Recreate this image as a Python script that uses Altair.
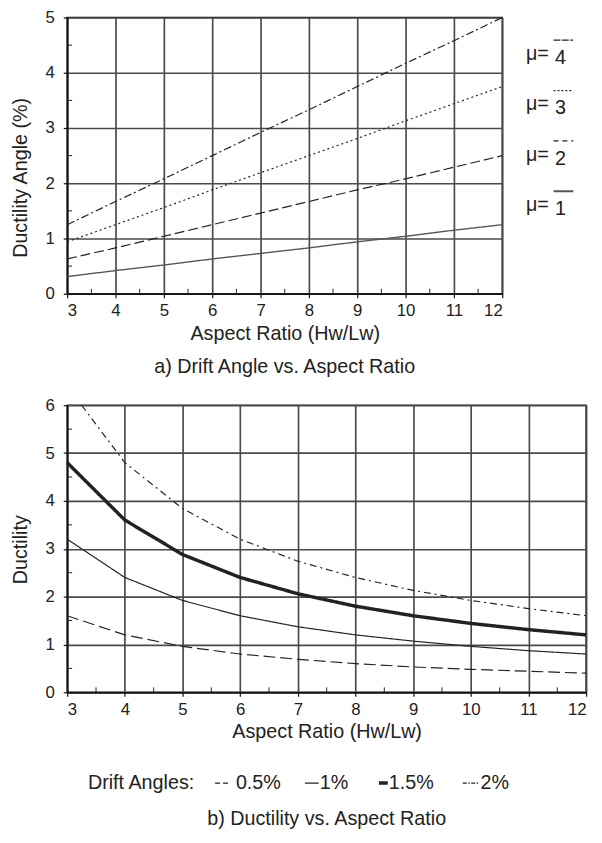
import altair as alt
import pandas as pd

FONT = "Liberation Sans"
INK = "#222222"

# ---------------- data: panel a ----------------
aspect = [3, 4, 5, 6, 7, 8, 9, 10, 11, 12]
mu_labels = ["1", "2", "3", "4"]
drift_mu1 = [0.31, 0.42, 0.52, 0.63, 0.73, 0.83, 0.94, 1.04, 1.15, 1.25]
drift_mu2 = [0.63, 0.83, 1.04, 1.25, 1.46, 1.67, 1.88, 2.08, 2.29, 2.50]
drift_mu3 = [0.94, 1.25, 1.56, 1.88, 2.19, 2.50, 2.81, 3.13, 3.44, 3.75]
drift_mu4 = [1.25, 1.67, 2.08, 2.50, 2.92, 3.33, 3.75, 4.17, 4.58, 5.00]

# ---------------- data: panel b ----------------
drift_labels = ["0.5%", "1%", "1.5%", "2%"]
duct_05 = [1.60, 1.20, 0.96, 0.80, 0.69, 0.60, 0.53, 0.48, 0.44, 0.40]
duct_10 = [3.20, 2.40, 1.92, 1.60, 1.37, 1.20, 1.07, 0.96, 0.87, 0.80]
duct_15 = [4.80, 3.60, 2.88, 2.40, 2.06, 1.80, 1.60, 1.44, 1.31, 1.20]
aspect_20 = [3.25, 4, 5, 6, 7, 8, 9, 10, 11, 12]
duct_20 = [6.00, 4.80, 3.84, 3.20, 2.74, 2.40, 2.13, 1.92, 1.75, 1.60]

minor_x = [3.5, 4.5, 5.5, 6.5, 7.5, 8.5, 9.5, 10.5, 11.5]
minor_y_a = [0.5, 1.5, 2.5, 3.5, 4.5]
minor_y_b = [0.5, 1.5, 2.5, 3.5, 4.5, 5.5]
yticks_a = [0, 1, 2, 3, 4, 5]
yticks_b = [0, 1, 2, 3, 4, 5, 6]

title_a = "a) Drift Angle vs. Aspect Ratio"
title_b = "b) Ductility vs. Aspect Ratio"
xtitle = "Aspect Ratio (Hw/Lw)"

# ---------------- style ----------------
dash_a = [[1, 0], [10, 4], [2, 3], [8, 3, 2, 3]]
col_a = ["#555555", INK, INK, INK]
width_a = [1.4, 1.2, 1.2, 1.2]
legend_dash_a = [[1, 0], [5, 4], [2, 2], [7, 1.5]]
dash_b = [[12, 5], [1, 0], [1, 0], [7, 4, 2, 4]]
width_b = [1.2, 1.2, 3.5, 1.2]

W1, H1 = 441, 280
W2, H2 = 526, 291
FS = 20


def x_axis():
    return alt.Axis(values=aspect, format="d", tickSize=4, labelPadding=5,
                    title=xtitle, titlePadding=5, grid=True)


def y_axis(vals, title, ty):
    return alt.Axis(values=vals, tickSize=4, labelPadding=9, title=title,
                    titleX=-47, titleY=ty, titleBaseline="middle", grid=True)


def series(xs, ys, xsc, ysc, xax, yax, dash, width, color):
    df = pd.DataFrame({"ar": xs, "val": ys})
    return alt.Chart(df).mark_line(color=color, strokeWidth=width, strokeDash=dash).encode(
        x=alt.X("ar:Q", scale=xsc, axis=xax),
        y=alt.Y("val:Q", scale=ysc, axis=yax))


def make_minor(xsc, ysc, xax, yax, ylist, h):
    mx = alt.Chart(pd.DataFrame({"ar": minor_x})).mark_rule(
        color=INK, strokeWidth=1).encode(
        x=alt.X("ar:Q", scale=xsc, axis=xax),
        y=alt.value(h), y2=alt.value(h - 5))
    my = alt.Chart(pd.DataFrame({"val": ylist})).mark_rule(
        color=INK, strokeWidth=1).encode(
        y=alt.Y("val:Q", scale=ysc, axis=yax),
        x=alt.value(0), x2=alt.value(5))
    return [mx, my]


def text_at(txt, x, y, size=FS, align="left"):
    return alt.Chart(pd.DataFrame({"t": [txt]})).mark_text(
        font=FONT, fontSize=size, color=INK, align=align, baseline="middle"
    ).encode(text="t:N", x=alt.value(x), y=alt.value(y))


def rule_at(x1, x2, y, dash, width=1.2, color=INK):
    return alt.Chart(pd.DataFrame({"d": [0]})).mark_rule(
        color=color, strokeWidth=width, strokeDash=dash).encode(
        x=alt.value(x1), x2=alt.value(x2), y=alt.value(y))


# ---------------- panel a ----------------
xs1 = alt.Scale(domain=[3, 12], nice=False)
ys1 = alt.Scale(domain=[0, 5], nice=False)
xa1 = x_axis()
ya1 = y_axis(yticks_a, "Ductility Angle (%)", 162)

layers_a = []
for i, vals in enumerate([drift_mu1, drift_mu2, drift_mu3, drift_mu4]):
    layers_a.append(series(aspect, vals, xs1, ys1, xa1, ya1, dash_a[i], width_a[i], col_a[i]))
layers_a += make_minor(xs1, ys1, xa1, ya1, minor_y_a, H1)
for i, lab in enumerate(mu_labels):
    yb = 190 - 51 * i
    layers_a.append(text_at("μ=", 465, yb, size=FS))
    layers_a.append(text_at(lab, 500, yb + 4, size=FS, align="center"))
    layers_a.append(rule_at(493, 513, yb - 14, legend_dash_a[i], 1.3 if i else 2,
                            "#555555" if i == 0 else INK))
layers_a.append(text_at(title_a, W1 / 2, 354, size=FS, align="center"))

chart_a = alt.layer(*layers_a).properties(width=W1, height=H1)

# ---------------- panel b ----------------
xs2 = alt.Scale(domain=[3, 12], nice=False)
ys2 = alt.Scale(domain=[0, 6], nice=False)
xa2 = x_axis()
ya2 = y_axis(yticks_b, "Ductility", 146)

layers_b = []
for i, (xs, vals) in enumerate(zip([aspect, aspect, aspect, aspect_20],
                                   [duct_05, duct_10, duct_15, duct_20])):
    layers_b.append(series(xs, vals, xs2, ys2, xa2, ya2, dash_b[i], width_b[i], INK))
layers_b += make_minor(xs2, ys2, xa2, ya2, minor_y_b, H2)
ly = 383
layers_b.append(text_at("Drift Angles:", 21, ly, size=FS))
legend_pos = [(150, 166), (241, 255), (316, 325), (401, 418)]
legend_dash = [[5, 3], [1, 0], [1, 0], [4, 1.5, 1.5, 1.5]]
legend_w = [1.2, 1.2, 3.5, 1.2]
for lab, (x1, x2), dsh, wd in zip(drift_labels, legend_pos, legend_dash, legend_w):
    layers_b.append(rule_at(x1, x2, ly, dsh, wd))
    layers_b.append(text_at(lab, x2 + 5 if lab == "0.5%" else x2 + 1, ly, size=FS))
layers_b.append(text_at(title_b, W2 / 2, 420, size=FS, align="center"))

chart_b = alt.layer(*layers_b).properties(width=W2, height=H2)

chart = alt.vconcat(chart_a, chart_b, spacing=18).properties(
    padding={"left": 2, "top": -6, "right": 0, "bottom": 0}
).configure_view(stroke="#111111", strokeWidth=1.5).configure_axis(
    labelFont=FONT, titleFont=FONT, labelFontSize=17, titleFontSize=FS,
    titleFontWeight="normal", labelColor=INK, titleColor=INK,
    gridColor="#4a4a4a", gridWidth=1.7, gridOpacity=1,
    domainColor="#111111", domainWidth=1.6, tickColor="#111111", tickWidth=1.2,
).configure_text(font=FONT)

chart.save("out.html", embed_options={"renderer": "svg", "actions": False})
